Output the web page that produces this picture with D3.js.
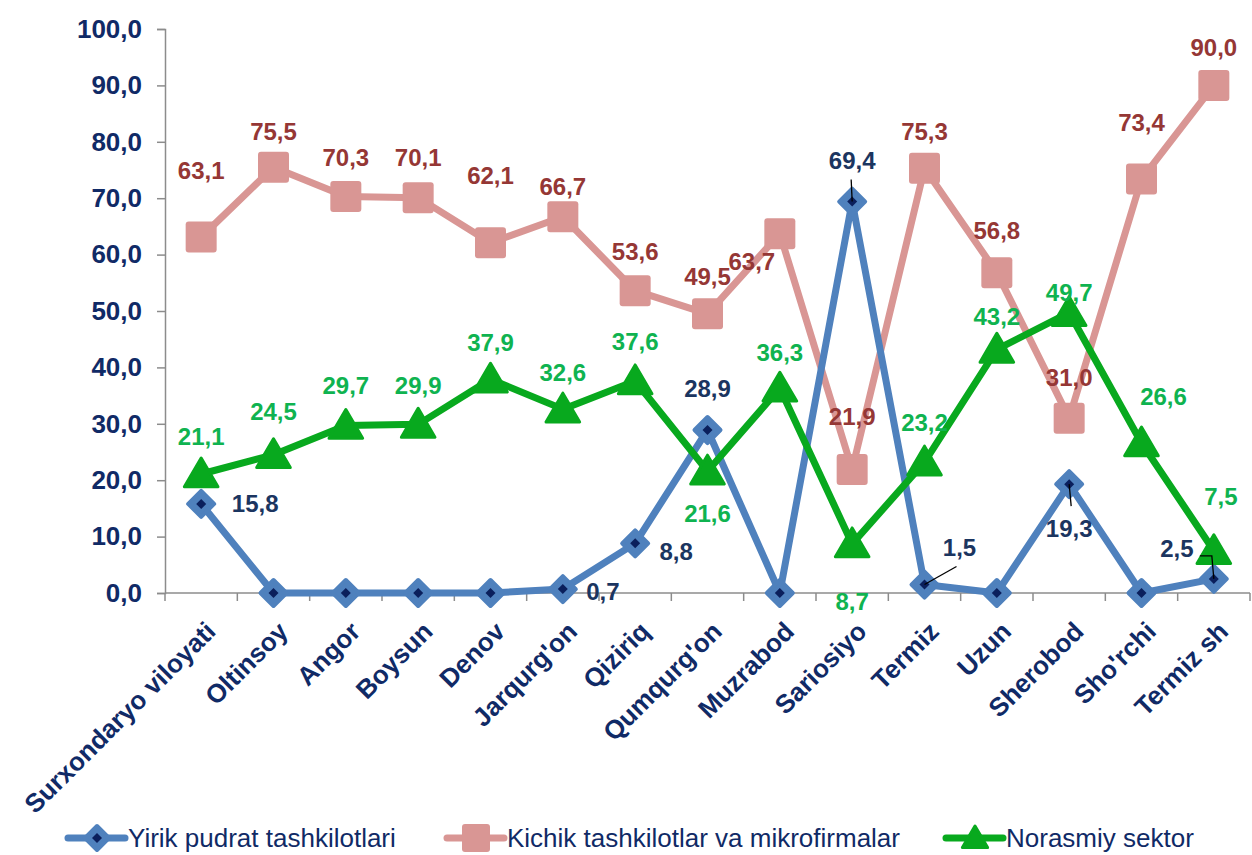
<!DOCTYPE html>
<html>
<head>
<meta charset="utf-8">
<script src="https://cdn.jsdelivr.net/npm/d3@7"></script>
<style>
  body { margin: 0; background: #fff; }
  text { font-family: "Liberation Sans", Arial, sans-serif; }
</style>
</head>
<body>
<script>
// Data
const categories = ["Surxondaryo viloyati", "Oltinsoy", "Angor", "Boysun", "Denov", "Jarqurg'on",
  "Qiziriq", "Qumqurg'on", "Muzrabod", "Sariosiyo", "Termiz", "Uzun", "Sherobod", "Sho'rchi", "Termiz sh"];
const yirik = [15.8, 0, 0, 0, 0, 0.7, 8.8, 28.9, 0, 69.4, 1.5, 0, 19.3, 0, 2.5];
const kichik = [63.1, 75.5, 70.3, 70.1, 62.1, 66.7, 53.6, 49.5, 63.7, 21.9, 75.3, 56.8, 31.0, 73.4, 90.0];
const norasmiy = [21.1, 24.5, 29.7, 29.9, 37.9, 32.6, 37.6, 21.6, 36.3, 8.7, 23.2, 43.2, 49.7, 26.6, 7.5];
const seriesNames = ["Yirik pudrat tashkilotlari", "Kichik tashkilotlar va mikrofirmalar", "Norasmiy sektor"];
const yTicks = [0, 10, 20, 30, 40, 50, 60, 70, 80, 90, 100];

// label placement (offset from point, px) – null = no label
const yirikLabelPos = [[54, 0], null, null, null, null, [40, 3], [41, 8], [0, -41], null, [0, -41], [35, -37], null, [0, 44], null, [-37, -30]];
const kichikLabelPos = [[0, -67], [0, -36], [0, -39], [0, -40], [0, -67], [0, -30], [0, -39], [0, -37], [-28, 28], [0, -53], [0, -37], [0, -42], [0, -41], [0, -56], [0, -38]];
const norasmiyLabelPos = [[0, -37], [0, -43], [0, -40], [0, -39], [0, -37], [0, -37], [0, -39], [0, 42], [0, -36], [0, 58], [0, -40], [0, -33], [0, -20], [22, -46], [7, -54]];
const leaderIdx = [9, 10, 12, 14];

const width = 1252, height = 855;

const svg = d3.select("body").append("svg")
  .attr("width", width).attr("height", height);

const x = d3.scaleBand().domain(categories).range([165, 1250]);
const y = d3.scaleLinear().domain([0, 100]).range([593, 29]);
const cx = c => x(c) + x.bandwidth() / 2;

const navy = "#102a66";
const fmt = v => v.toFixed(1).replace(".", ",");

// Y axis
const yAxis = svg.append("g")
  .attr("transform", `translate(165,0)`)
  .call(d3.axisLeft(y).tickValues(yTicks).tickSize(8).tickFormat(fmt));
yAxis.select(".domain").attr("stroke", "#8c8c8c").attr("stroke-width", 1.5);
yAxis.selectAll(".tick line").attr("stroke", "#8c8c8c").attr("stroke-width", 1.5);
yAxis.selectAll(".tick text")
  .attr("x", -23)
  .attr("fill", navy)
  .style("font-size", "26px").style("font-weight", "bold")
  .style("font-family", "Liberation Sans, Arial, sans-serif");

// X axis
const xAxis = svg.append("g").attr("transform", `translate(0,593)`);
xAxis.append("line").attr("x1", 165).attr("x2", 1250)
  .attr("stroke", "#8c8c8c").attr("stroke-width", 1.5);
xAxis.selectAll("line.tk")
  .data(d3.range(categories.length + 1))
  .join("line").attr("class", "tk")
  .attr("x1", i => 165 + i * x.step()).attr("x2", i => 165 + i * x.step())
  .attr("y1", 0).attr("y2", 8)
  .attr("stroke", "#8c8c8c").attr("stroke-width", 1.5);
xAxis.selectAll("text")
  .data(categories)
  .join("text")
  .attr("transform", d => `translate(${cx(d) + 16},${40}) rotate(-45)`)
  .attr("text-anchor", "end")
  .attr("fill", navy)
  .style("font-size", "26px").style("font-weight", "bold")
  .text(d => d);

const line = d3.line().x((d, i) => cx(categories[i])).y(d => y(d));

const colors = { yirik: "#4f81bd", kichik: "#d99694", norasmiy: "#08a91e" };
const lblColors = { yirik: "#1b3560", kichik: "#953735", norasmiy: "#0fb350" };

function diamond(g, s) {
  g.append("path").attr("d", `M0,${-s}L${s},0L0,${s}L${-s},0Z`)
    .attr("fill", colors.yirik).attr("stroke", colors.yirik)
    .attr("stroke-width", 4).attr("stroke-linejoin", "round");
  g.append("path").attr("d", "M0,-5L5,0L0,5L-5,0Z").attr("fill", "#0a1f5c");
}
function square(g, s) {
  g.append("rect").attr("x", -s).attr("y", -s).attr("width", 2 * s).attr("height", 2 * s)
    .attr("rx", 3).attr("fill", colors.kichik);
}
function triangle(g, s) {
  g.append("path").attr("d", `M0,${-s}L${s * 1.05},${s * 0.8}L${-s * 1.05},${s * 0.8}Z`)
    .attr("fill", colors.norasmiy).attr("stroke", colors.norasmiy)
    .attr("stroke-width", 3).attr("stroke-linejoin", "round");
}

const series = [
  { key: "kichik", values: kichik, marker: square, size: 15.5, lbl: kichikLabelPos },
  { key: "norasmiy", values: norasmiy, marker: triangle, size: 16, lbl: norasmiyLabelPos },
  { key: "yirik", values: yirik, marker: diamond, size: 13, lbl: yirikLabelPos }
];

// lines then markers
const order = ["kichik", "yirik", "norasmiy"];
order.forEach(k => {
  const s = series.find(d => d.key === k);
  svg.append("path").datum(s.values)
    .attr("d", line).attr("fill", "none")
    .attr("stroke", colors[k]).attr("stroke-width", 7).attr("stroke-linejoin", "round");
});
order.forEach(k => {
  const s = series.find(d => d.key === k);
  s.values.forEach((v, i) => {
    const g = svg.append("g").attr("transform", `translate(${cx(categories[i])},${y(v)})`);
    s.marker(g, s.size);
  });
});

// leader lines for some yirik labels
leaderIdx.forEach(i => {
  const px = cx(categories[i]), py = y(yirik[i]);
  let pts;
  if (i === 9) pts = [[px, py], [px - 1, py - 22]];
  else if (i === 10) pts = [[px, py], [px + 32, py - 18]];
  else if (i === 12) pts = [[px, py], [px + 2, py + 22]];
  else pts = [[px, py], [px - 2, py - 23], [px - 14, py - 23]];
  svg.append("path").attr("d", d3.line()(pts))
    .attr("fill", "none").attr("stroke", "#000").attr("stroke-width", 1.3);
});

// data labels
series.forEach(s => {
  svg.append("g").selectAll("text")
    .data(s.values.map((v, i) => ({ v, i, p: s.lbl[i] })).filter(d => d.p))
    .join("text")
    .attr("x", d => cx(categories[d.i]) + d.p[0])
    .attr("y", d => y(d.v) + d.p[1])
    .attr("dy", "0.35em")
    .attr("text-anchor", "middle")
    .attr("fill", lblColors[s.key])
    .style("font-size", "24px").style("font-weight", "bold")
    .text(d => fmt(d.v));
});

// legend
const legendTextX = [128, 507, 1006];
const legendKeys = ["yirik", "kichik", "norasmiy"];
const markers = { yirik: diamond, kichik: square, norasmiy: triangle };
const legend = svg.append("g").attr("transform", "translate(0,838)");
legendKeys.forEach((k, i) => {
  const g = legend.append("g").attr("transform", `translate(${legendTextX[i] - 60},0)`);
  g.append("line").attr("x1", 0).attr("x2", 57)
    .attr("stroke", colors[k]).attr("stroke-width", 7).attr("stroke-linecap", "round");
  const m = g.append("g").attr("transform", "translate(29,0)");
  markers[k](m, k === "norasmiy" ? 12 : (k === "kichik" ? 14 : 12));
  g.append("text").attr("x", 60).attr("dy", "0.35em")
    .attr("fill", navy).style("font-size", "26px")
    .text(seriesNames[i]);
});
</script>
</body>
</html>
